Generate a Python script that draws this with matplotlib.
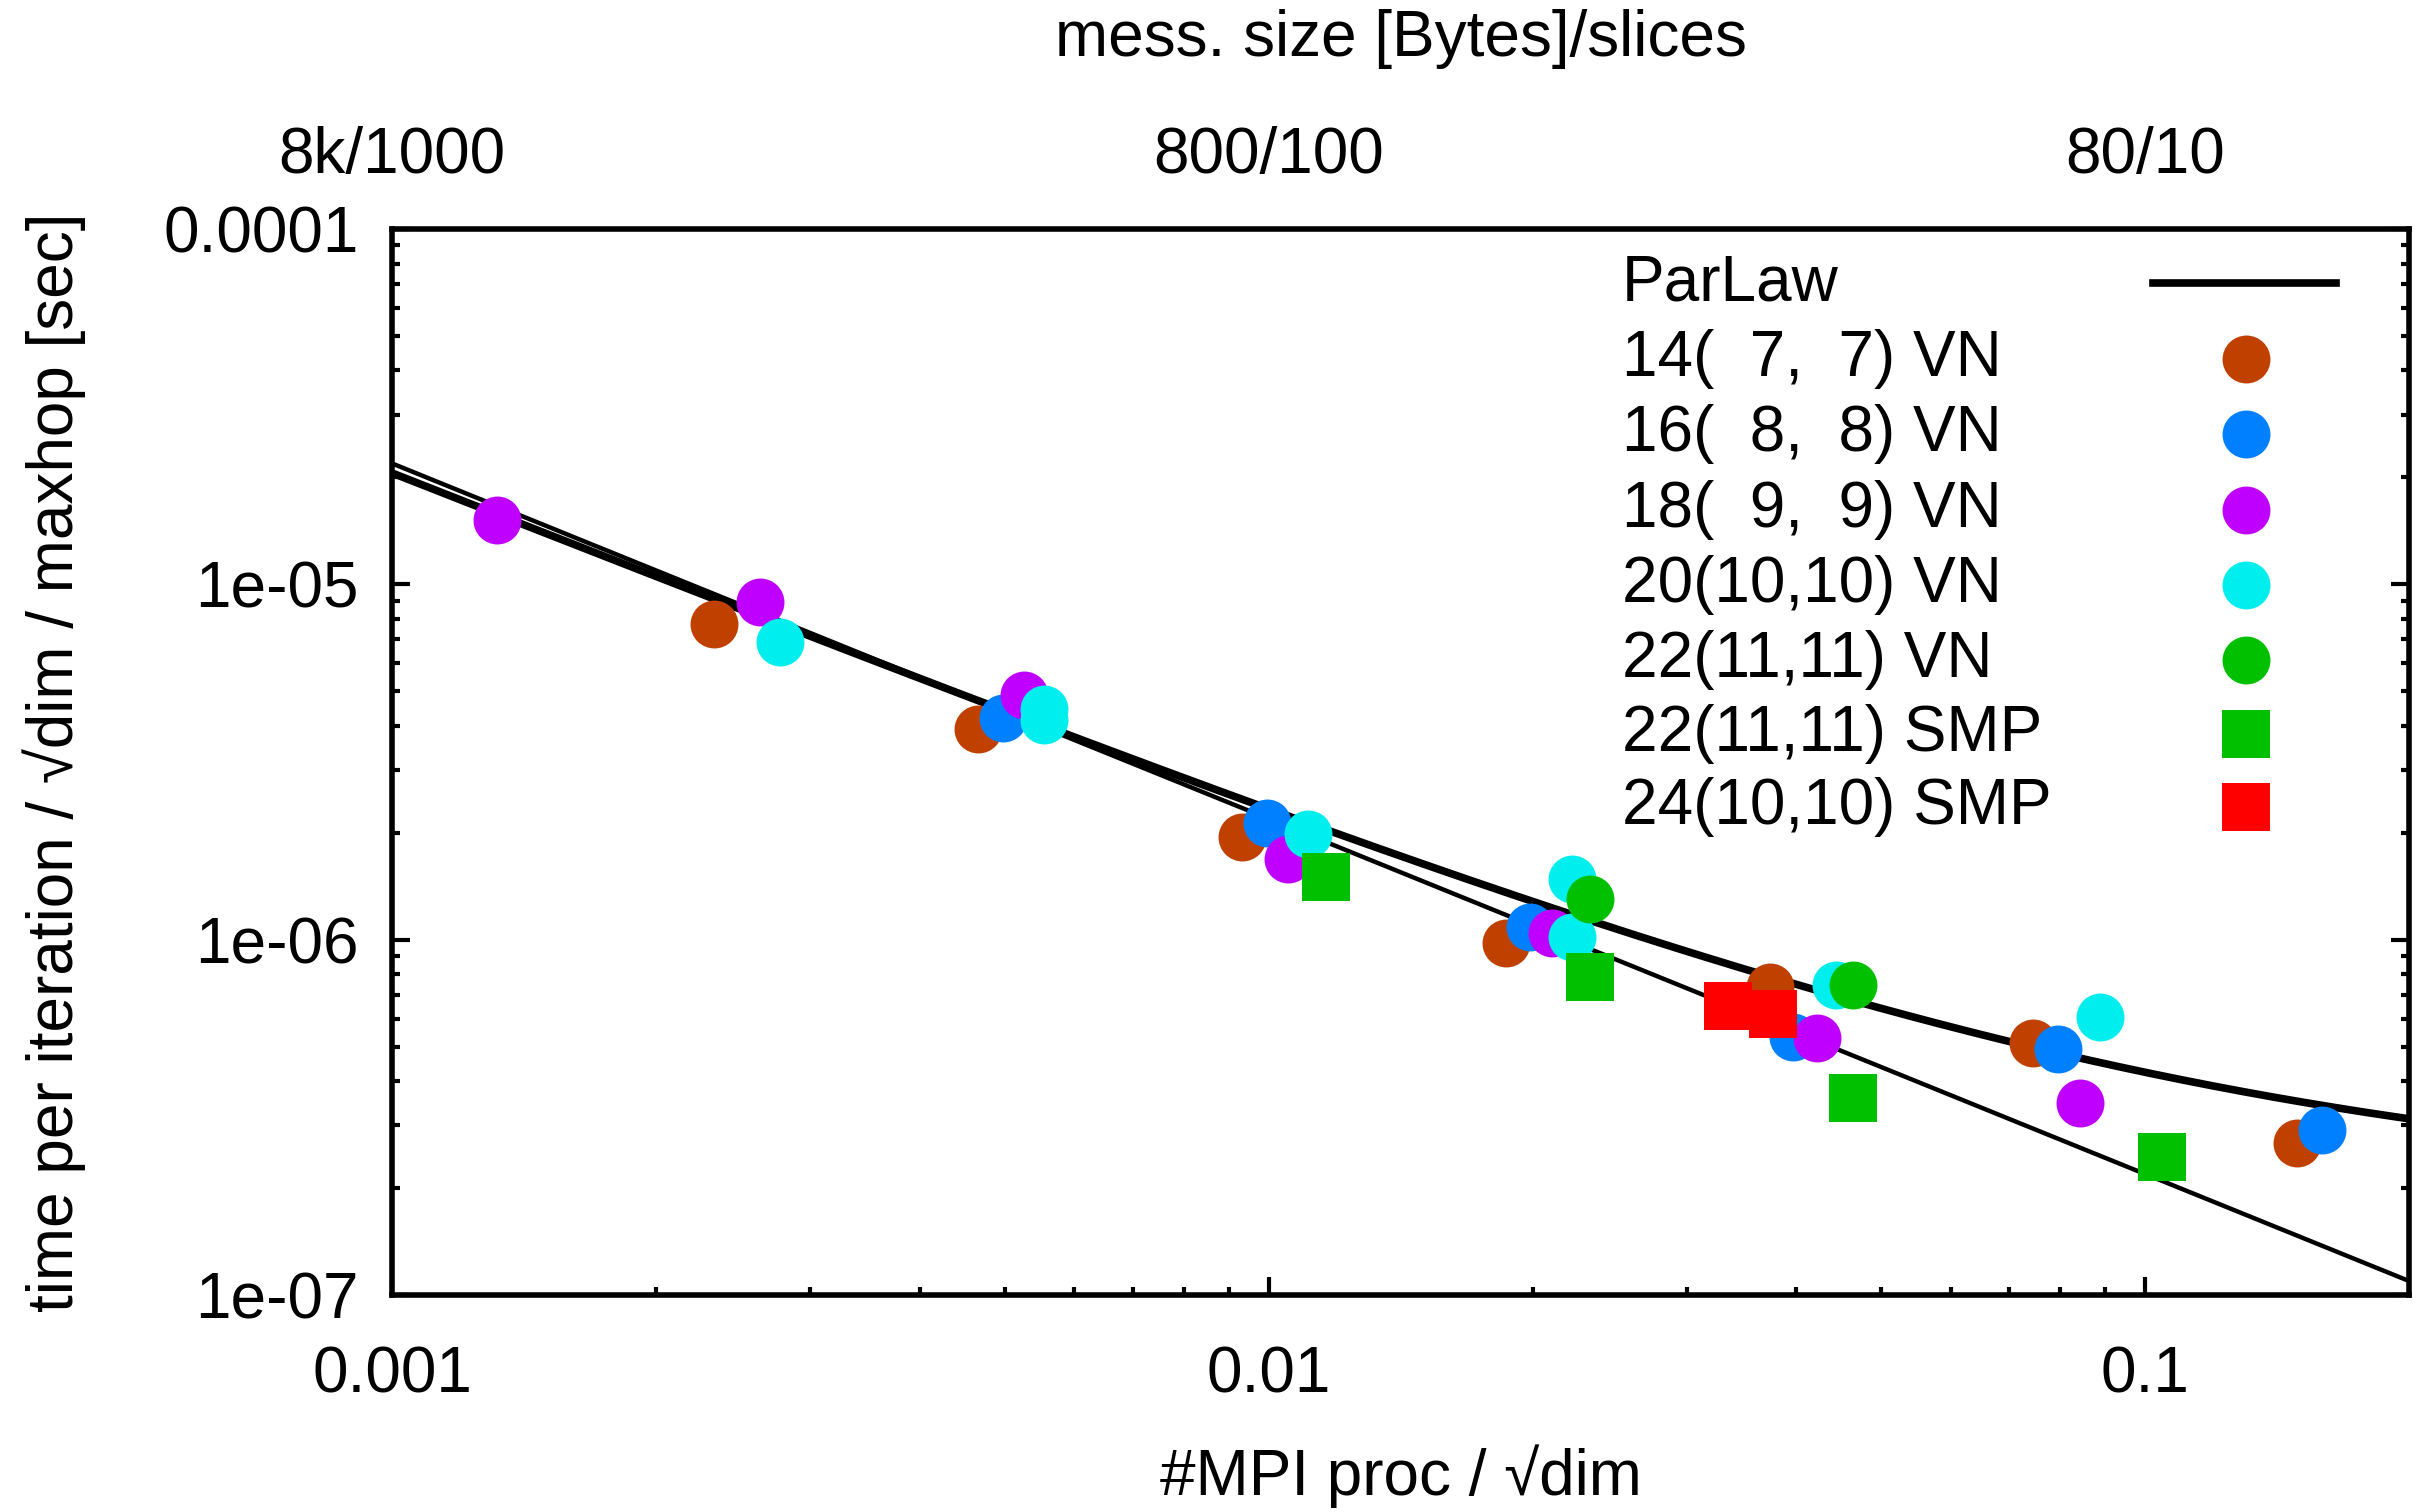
import numpy as np
import matplotlib
matplotlib.use("Agg")
import matplotlib.pyplot as plt
from matplotlib.ticker import FixedLocator, LogLocator, NullFormatter, NullLocator

plt.rcParams['font.family'] = ['Liberation Sans', 'DejaVu Sans']

# measurements: x = #MPI proc / sqrt(dim), y = time per iteration / sqrt(dim) / maxhop [sec]
x_14vn = [0.00233, 0.00466, 0.00932, 0.01865, 0.0373, 0.0744, 0.1489]
y_14vn = [7.73e-6, 3.915e-6, 1.944e-6, 9.78e-7, 7.35e-7, 5.12e-7, 2.68e-7]

x_16vn = [0.004975, 0.009956, 0.01986, 0.03963, 0.0795, 0.159]
y_16vn = [4.205e-6, 2.129e-6, 1.085e-6, 5.32e-7, 4.92e-7, 2.91e-7]

x_18vn = [0.001318, 0.002628, 0.005258, 0.01052, 0.02103, 0.0422, 0.08421]
y_18vn = [1.517e-5, 8.92e-6, 4.88e-6, 1.686e-6, 1.044e-6, 5.28e-7, 3.47e-7]

x_20vn = [0.00277, 0.005541, 0.005541, 0.01108, 0.02218, 0.02218, 0.04437, 0.08874]
y_20vn = [6.88e-6, 4.457e-6, 4.15e-6, 1.982e-6, 1.017e-6, 1.481e-6, 7.45e-7, 6.06e-7]

x_22vn = [0.02325, 0.0464]
y_22vn = [1.301e-6, 7.45e-7]

x_22smp = [0.01162, 0.02325, 0.0464, 0.1045]
y_22smp = [1.501e-6, 7.85e-7, 3.58e-7, 2.44e-7]

x_24smp = [0.03341, 0.0376]
y_24smp = [6.50e-7, 6.17e-7]

# fitted curves (ParLaw: a*x^-p + b, plain 1/x law)
parlaw_a, parlaw_p, parlaw_b = 2.34e-8, 0.98, 2.0e-7
ideal_a = 2.19e-8

labels = ['14(  7,  7) VN', '16(  8,  8) VN', '18(  9,  9) VN', '20(10,10) VN',
          '22(11,11) VN', '22(11,11) SMP', '24(10,10) SMP']
colors = ['#c04000', '#0080ff', '#c000ff', '#00eeee', '#00c000', '#00c000', '#ff0000']
markers = ['o', 'o', 'o', 'o', 'o', 's', 's']
series = [(x_14vn, y_14vn), (x_16vn, y_16vn), (x_18vn, y_18vn), (x_20vn, y_20vn),
          (x_22vn, y_22vn), (x_22smp, y_22smp), (x_24smp, y_24smp)]

xticks = [0.001, 0.01, 0.1]
xticklabels = ['0.001', '0.01', '0.1']
top_ticklabels = ['8k/1000', '800/100', '80/10']
yticks = [1e-7, 1e-6, 1e-5, 1e-4]
yticklabels = ['1e-07', '1e-06', '1e-05', '0.0001']

FS = 46
MS = 34.5

fig = plt.figure(figsize=(24.29, 15.12), dpi=100)
ax = fig.add_axes([0.1614, 0.1435, 0.8304, 0.7050])
ax.set_xscale('log')
ax.set_yscale('log')
ax.set_xlim(0.001, 0.2)
ax.set_ylim(1e-7, 1e-4)

# lines
xs = np.logspace(-3, np.log10(0.2), 400)
ax.plot(xs, ideal_a / xs, color='k', lw=3.2, zorder=2)
ax.plot(xs, parlaw_a * xs ** (-parlaw_p) + parlaw_b, color='k', lw=5.5, zorder=2)

# points
for (sx, sy), c, m in zip(series, colors, markers):
    ax.plot(sx, sy, ls='none', marker=m, ms=MS, mfc=c, mec=c, mew=0, zorder=3)

# axes styling
for s in ax.spines.values():
    s.set_linewidth(4)
ax.xaxis.set_major_locator(FixedLocator(xticks))
ax.set_xticklabels(xticklabels)
ax.yaxis.set_major_locator(FixedLocator(yticks))
ax.set_yticklabels(yticklabels)
ax.xaxis.set_minor_locator(LogLocator(base=10, subs=range(2, 10), numticks=20))
ax.yaxis.set_minor_locator(LogLocator(base=10, subs=range(2, 10), numticks=20))
ax.xaxis.set_minor_formatter(NullFormatter())
ax.yaxis.set_minor_formatter(NullFormatter())
ax.tick_params(which='both', direction='in', top=True, right=True, width=3, labelsize=FS)
ax.tick_params(which='major', length=13)
ax.tick_params(which='minor', length=6)
ax.tick_params(axis='x', pad=36)
ax.tick_params(axis='y', pad=24)

ax.set_xlabel('#MPI proc / \u221adim', fontsize=FS, va='center')
ax.xaxis.set_label_coords(0.5, -0.1698)
ax.set_ylabel('time per iteration / \u221adim / maxhop [sec]', fontsize=FS, va='center')
ax.yaxis.set_label_coords(-0.1676, 0.5)

# top axis: message size / slices
ax2 = ax.twiny()
ax2.set_xscale('log')
ax2.set_xlim(0.001, 0.2)
ax2.xaxis.set_major_locator(FixedLocator(xticks))
ax2.set_xticklabels(top_ticklabels)
ax2.xaxis.set_minor_locator(NullLocator())
ax2.tick_params(axis='x', which='both', length=0, pad=31, labelsize=FS)
for s in ax2.spines.values():
    s.set_visible(False)
ax2.set_xlabel('mess. size [Bytes]/slices', fontsize=FS, va='center')
ax2.xaxis.set_label_coords(0.5, 1.1782)

# gnuplot-style key: text left, sample right
key_x_text = 0.6098
key_x_mark = 0.9192
key_y = [0.9493, 0.878, 0.8077, 0.7364, 0.666, 0.5957, 0.5263, 0.4578]
ax.text(key_x_text, key_y[0], 'ParLaw', transform=ax.transAxes, fontsize=FS,
        va='center', ha='left', zorder=5)
ax.plot([0.8731, 0.9638], [key_y[0], key_y[0]], color='k', lw=5.5,
        transform=ax.transAxes, clip_on=False, zorder=5)
for lab, c, m, yk in zip(labels, colors, markers, key_y[1:]):
    ax.text(key_x_text, yk, lab, transform=ax.transAxes, fontsize=FS,
            va='center', ha='left', zorder=5)
    ax.plot([key_x_mark], [yk], marker=m, ms=MS, mfc=c, mec=c, mew=0,
            transform=ax.transAxes, clip_on=False, zorder=5)

fig.savefig('out.png', dpi=100)
